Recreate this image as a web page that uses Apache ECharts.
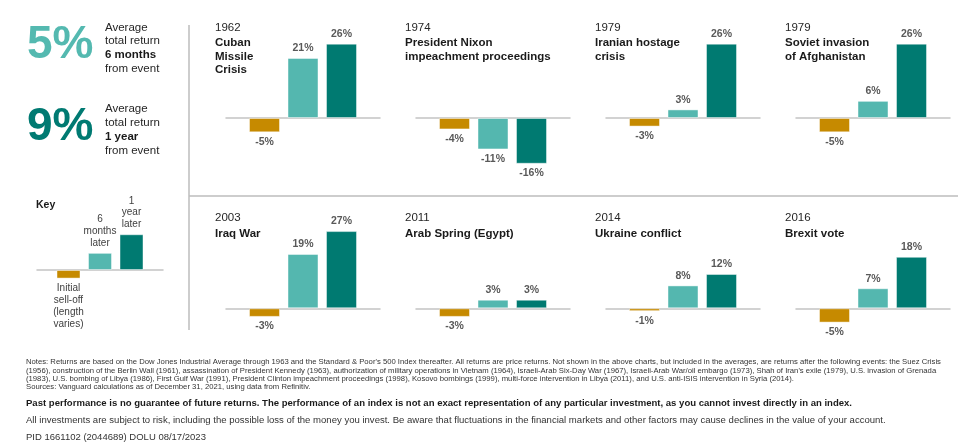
<!DOCTYPE html>
<html><head><meta charset="utf-8">
<script src="https://cdn.jsdelivr.net/npm/echarts@6/dist/echarts.min.js"></script>
<style>html,body{margin:0;padding:0;background:#fff}#c{width:972px;height:445px}</style>
</head><body><div id="c"></div>
<script>
// ---- data ----
const years = ['1962', '1974', '1979', '1979', '2003', '2011', '2014', '2016'];
const events = ['Cuban\nMissile\nCrisis', 'President Nixon\nimpeachment proceedings', 'Iranian hostage\ncrisis', 'Soviet invasion\nof Afghanistan', 'Iraq War', 'Arab Spring (Egypt)', 'Ukraine conflict', 'Brexit vote'];
const initialSelloff = [-5, -4, -3, -5, -3, -3, -1, -5];
const sixMonthsLater = [21, -11, 3, 6, 19, 3, 8, 7];
const oneYearLater = [26, -16, 26, 26, 27, 3, 12, 18];
const avgSixMonths = 5;
const avgOneYear = 9;
const keyLabels = ['Initial\nsell-off\n(length\nvaries)', '6\nmonths\nlater', '1\nyear\nlater'];
const keyValues = [-3, 6, 12.5];
const notesLines = [
  "Notes: Returns are based on the Dow Jones Industrial Average through 1963 and the Standard & Poor's 500 Index thereafter. All returns are price returns. Not shown in the above charts, but included in the averages, are returns after the following events: the Suez Crisis",
  "(1956), construction of the Berlin Wall (1961), assassination of President Kennedy (1963), authorization of military operations in Vietnam (1964), Israeli-Arab Six-Day War (1967), Israeli-Arab War/oil embargo (1973), Shah of Iran's exile (1979), U.S. invasion of Grenada",
  "(1983), U.S. bombing of Libya (1986), First Gulf War (1991), President Clinton impeachment proceedings (1998), Kosovo bombings (1999), multi-force intervention in Libya (2011), and U.S. anti-ISIS intervention in Syria (2014).",
  "Sources: Vanguard calculations as of December 31, 2021, using data from Refinitiv."
];
const disclaimerBold = 'Past performance is no guarantee of future returns. The performance of an index is not an exact representation of any particular investment, as you cannot invest directly in an index.';
const disclaimer = 'All investments are subject to risk, including the possible loss of the money you invest. Be aware that fluctuations in the financial markets and other factors may cause declines in the value of your account.';
const pidText = 'PID 1661102 (2044689) DOLU 08/17/2023';

// ---- layout / style ----
const FONT = '"Liberation Sans", Arial, Helvetica, sans-serif';
const colors = ['#C68A00', '#54B7AF', '#007A71'];
const panelLeft = [226, 416, 606, 796];
const rowBase = [118, 308.3];
const rowYear = [27.7, 218.3];
const rowTitle = [43.3, 234];
const PX = 2.86;

const chart = echarts.init(document.getElementById('c'), null, {renderer: 'canvas'});
const grids = [], xAxes = [], yAxes = [], series = [], graphics = [];

function addPanel(idx, left, width, base, ymin, ymax, vals, barW, labelOpt, fmt) {
  grids.push({left: left, top: base - ymax * PX, width: width, height: (ymax - ymin) * PX, containLabel: false});
  xAxes.push({gridIndex: idx, type: 'value', min: 0, max: 4, show: true,
    axisLine: {show: true, onZero: true, lineStyle: {color: '#c4c4c4', width: 1.5}},
    axisTick: {show: false}, axisLabel: {show: false}, splitLine: {show: false}});
  yAxes.push({gridIndex: idx, type: 'value', min: ymin, max: ymax, show: false, splitLine: {show: false}});
  series.push({type: 'bar', xAxisIndex: idx, yAxisIndex: idx, barWidth: barW, animation: false,
    data: vals.map((v, k) => ({value: [k + 1, v],
      itemStyle: {color: colors[k], borderColor: 'rgba(255,255,255,0.45)', borderWidth: 1},
      label: {position: v < 0 ? 'bottom' : 'top', formatter: fmt(k, v)}})),
    label: Object.assign({show: true, fontFamily: FONT}, labelOpt)});
}

for (let i = 0; i < 8; i++) {
  const row = i < 4 ? 0 : 1, col = i % 4;
  addPanel(i, panelLeft[col], 154, rowBase[row], -20, 30,
    [initialSelloff[i], sixMonthsLater[i], oneYearLater[i]], 31,
    {fontSize: 10.5, fontWeight: 'bold', color: '#595959', distance: 4},
    (k, v) => v + '%');
  graphics.push({type: 'text', left: panelLeft[col] - 11, top: rowYear[row] - 7,
    style: {text: years[i], font: '11.5px ' + FONT, fill: '#262626', lineHeight: 14}});
  graphics.push({type: 'text', left: panelLeft[col] - 11, top: rowTitle[row] - 6.7,
    style: {text: events[i], font: 'bold 11.5px ' + FONT, fill: '#1a1a1a', lineHeight: 13.4}});
}
// key
addPanel(8, 37, 126, 270, -10, 20, keyValues, 24,
  {fontSize: 10, color: '#404040', distance: 4, lineHeight: 11.8, align: 'center'},
  (k) => keyLabels[k]);

// big average numbers
graphics.push({type: 'text', left: 27, top: 48 - 26, style: {text: avgSixMonths + '%', font: 'bold 46px ' + FONT, fill: '#54B9B0'}});
graphics.push({type: 'text', left: 27, top: 130 - 26, style: {text: avgOneYear + '%', font: 'bold 46px ' + FONT, fill: '#007A72'}});
const richSide = {n: {font: '11.5px ' + FONT, fill: '#262626', lineHeight: 13.8}, b: {font: 'bold 11.5px ' + FONT, fill: '#1a1a1a', lineHeight: 13.8}};
graphics.push({type: 'text', left: 105, top: 21.5, style: {text: '{n|Average}\n{n|total return}\n{b|6 months}\n{n|from event}', rich: richSide}});
graphics.push({type: 'text', left: 105, top: 103.2, style: {text: '{n|Average}\n{n|total return}\n{b|1 year}\n{n|from event}', rich: richSide}});
graphics.push({type: 'text', left: 36, top: 200, style: {text: 'Key', font: 'bold 10.5px ' + FONT, fill: '#1a1a1a'}});

// separators
graphics.push({type: 'line', shape: {x1: 189, y1: 25, x2: 189, y2: 330}, style: {stroke: '#bdbdbd', lineWidth: 1.5}});
graphics.push({type: 'line', shape: {x1: 189, y1: 196, x2: 958, y2: 196}, style: {stroke: '#bdbdbd', lineWidth: 1.5}});

// notes
const noteY = [362.5, 370.8, 379.1, 387.4];
notesLines.forEach((t, i) => graphics.push({type: 'text', left: 26, top: noteY[i] - 4.3,
  style: {text: t, font: '7.7px ' + FONT, fill: '#333'}}));
graphics.push({type: 'text', left: 26, top: 404.3 - 6, style: {text: disclaimerBold, font: 'bold 9.55px ' + FONT, fill: '#1a1a1a'}});
graphics.push({type: 'text', left: 26, top: 421 - 6, style: {text: disclaimer, font: '9.55px ' + FONT, fill: '#333'}});
graphics.push({type: 'text', left: 26, top: 438.3 - 6, style: {text: pidText, font: '9.5px ' + FONT, fill: '#333'}});

chart.setOption({
  animation: false,
  backgroundColor: '#fff',
  grid: grids, xAxis: xAxes, yAxis: yAxes, series: series, graphic: graphics
});
</script></body></html>
